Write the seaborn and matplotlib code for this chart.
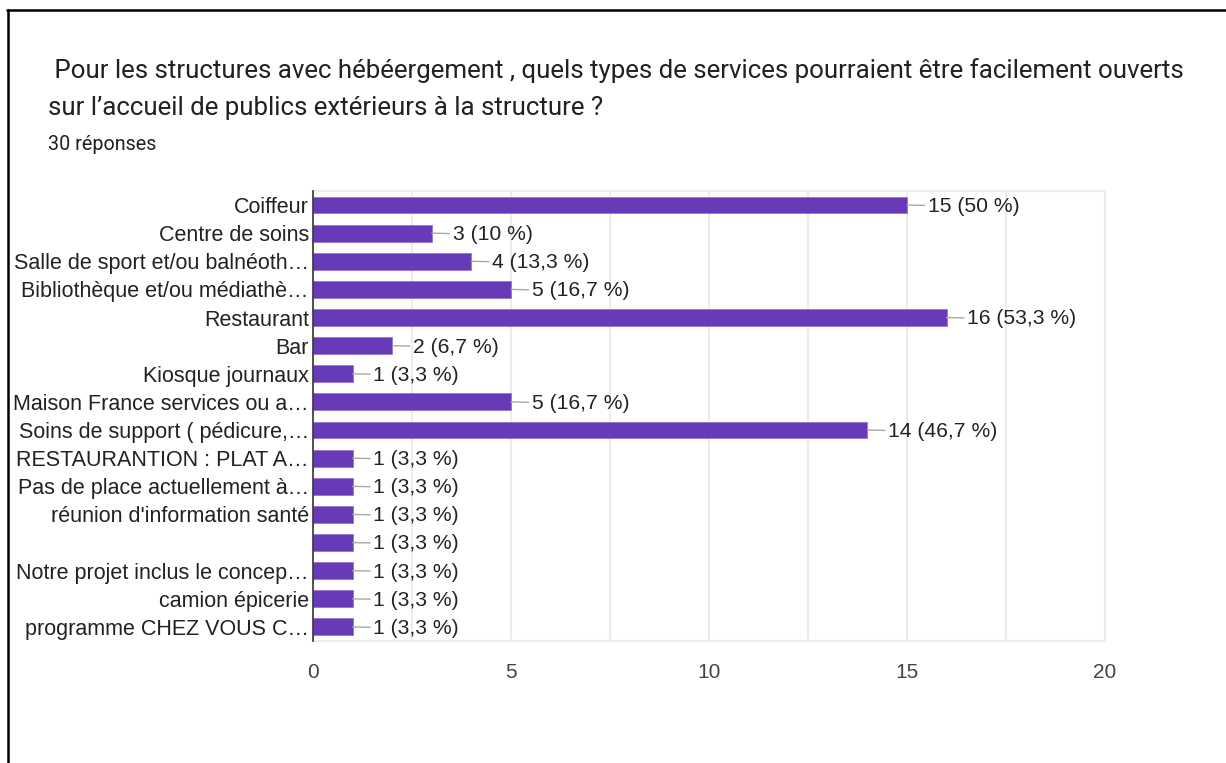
import matplotlib
matplotlib.use("Agg")
import matplotlib.pyplot as plt
import pandas as pd
import seaborn as sns
from matplotlib.lines import Line2D
from matplotlib.ticker import MultipleLocator

# answers as shown in the form summary (labels truncated like the original)
categories = [
    "Coiffeur",
    "Centre de soins",
    "Salle de sport et/ou balnéoth…",
    "Bibliothèque et/ou médiathè…",
    "Restaurant",
    "Bar",
    "Kiosque journaux",
    "Maison France services ou a…",
    "Soins de support ( pédicure,…",
    "RESTAURANTION : PLAT A…",
    "Pas de place actuellement à…",
    "réunion d'information santé",
    "",
    "Notre projet inclus le concep…",
    "camion épicerie",
    "programme CHEZ VOUS C…",
]
counts = [15, 3, 4, 5, 16, 2, 1, 5, 14, 1, 1, 1, 1, 1, 1, 1]
n_responses = 30
x_ticks = [0, 5, 10, 15, 20]

title = ("\u00a0Pour les structures avec hébéergement , quels types de services "
         "pourraient être facilement ouverts\n"
         "sur l’accueil de publics extérieurs à la structure ?")
subtitle = f"{n_responses} réponses"

bar_color = "#673ab7"
label_font = "Liberation Sans"

sns.set_theme(style="white")
plt.rcParams["font.family"] = [label_font, "DejaVu Sans"]

df = pd.DataFrame({"answer": categories, "count": counts})

fig = plt.figure(figsize=(12.26, 7.63), dpi=100)
ax = fig.add_axes([0.2553, 0.1599, 0.6460, 0.5898])

sns.barplot(data=df, x="count", y="answer", orient="h", color=bar_color,
            saturation=1, width=0.6, edgecolor="#9575cd", linewidth=0.6,
            ax=ax, zorder=3)

ax.set_xlim(0, 20)
ax.set_ylim(len(categories) - 0.5, -0.5)
ax.xaxis.set_major_locator(MultipleLocator(5))
ax.xaxis.set_minor_locator(MultipleLocator(2.5))
ax.set_xticks(x_ticks)
ax.grid(True, axis="x", which="both", color="#ececec", linewidth=1.5, zorder=0)
ax.set_xlabel("")
ax.set_ylabel("")

for side in ["top", "right", "bottom"]:
    ax.spines[side].set_color("#ececec")
    ax.spines[side].set_linewidth(1.5)
ax.spines["left"].set_color("#333333")
ax.spines["left"].set_linewidth(1.2)
ax.spines["left"].set_zorder(5)

ax.tick_params(axis="y", length=0, pad=3, labelsize=15.5, labelcolor="#222222")
ax.tick_params(axis="x", which="both", length=0, pad=16, labelsize=15,
               labelcolor="#444444")

# value labels with a short grey leader line, Google Forms style
for i, v in enumerate(counts):
    pct = f"{100 * v / n_responses:.1f}".rstrip("0").rstrip(".").replace(".", ",")
    ax.annotate(f"{v} ({pct} %)", xy=(v, i), xytext=(15, -1),
                textcoords="offset points", ha="left", va="center",
                fontsize=15.2, color="#222222",
                arrowprops=dict(arrowstyle="-", color="#a8a8a8", lw=1.0,
                                shrinkA=0, shrinkB=0))

fig.text(0.039, 0.8834, title, ha="left", va="center", fontsize=18.6,
         family=["Roboto", "DejaVu Sans"], color="#202124", linespacing=1.7)
fig.text(0.039, 0.811, subtitle, ha="left", va="center", fontsize=14.2,
         family=["Roboto", "DejaVu Sans"], color="#202124")

# screenshot frame (top and left edges)
fig.add_artist(Line2D([0.006, 1.0], [0.987, 0.987], color="black", lw=1.8,
                      transform=fig.transFigure))
fig.add_artist(Line2D([0.0065, 0.0065], [0.0, 0.987], color="black", lw=1.8,
                      transform=fig.transFigure))

fig.savefig("out.png", dpi=100)
